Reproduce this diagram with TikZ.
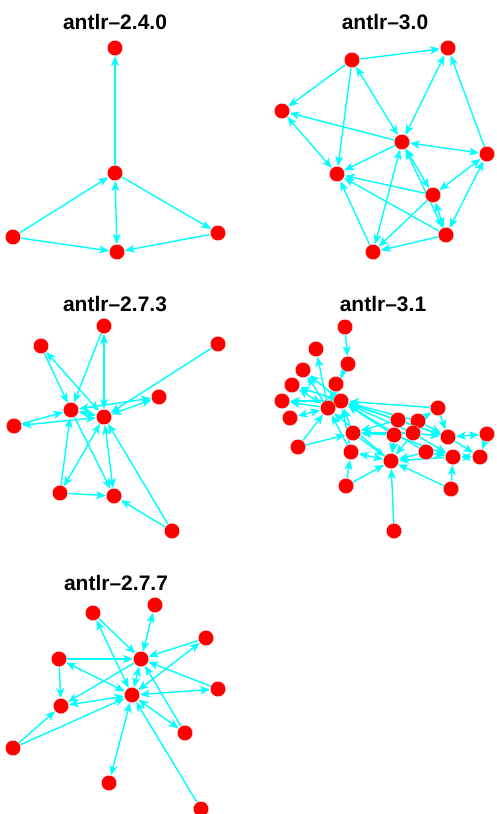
\documentclass[tikz,border=0pt]{standalone}
\usepackage{fontspec}
\setmainfont{Liberation Sans}
\usetikzlibrary{arrows.meta,backgrounds}
\definecolor{edgecyan}{RGB}{0,255,255}
\definecolor{nodered}{RGB}{255,0,0}
\tikzset{
  v/.style={circle,fill=nodered,draw=white,line width=0.3pt,minimum size=15.5pt,inner sep=0pt},
  tip/.tip={Stealth[length=10pt,width=8pt,inset=2.5pt]},
  e/.style={draw=edgecyan,line width=1.4pt,-tip},
  bi/.style={draw=edgecyan,line width=1.4pt,tip-tip},
  ttl/.style={font=\fontsize{21}{24}\selectfont\bfseries,inner sep=0pt}
}
\begin{document}
\begin{tikzpicture}[x=1pt,y=-1pt]
\useasboundingbox (0,0) rectangle (497,814);
% titles
\node[ttl] (t1) at (115,22) {antlr–2.4.0};
\node[ttl] (t2) at (385,22) {antlr–3.0};
\node[ttl] (t3) at (115,304) {antlr–2.7.3};
\node[ttl] (t4) at (383,304) {antlr–3.1};
\node[ttl] (t5) at (116,583) {antlr–2.7.7};
% panel 1
\node[v] (a1) at (115,48) {};
\node[v] (a2) at (115,173) {};
\node[v] (a3) at (13,237) {};
\node[v] (a4) at (117,252) {};
\node[v] (a5) at (218,233) {};
% panel 2
\node[v] (n1) at (352,60) {};
\node[v] (n2) at (448,48) {};
\node[v] (n3) at (282,111) {};
\node[v] (n4) at (402,142) {};
\node[v] (n5) at (487,154) {};
\node[v] (n6) at (337,174) {};
\node[v] (n7) at (433,195) {};
\node[v] (n8) at (446,235) {};
\node[v] (n9) at (373,252) {};
% panel 3
\node[v] (m1) at (104,326) {};
\node[v] (m2) at (41,346) {};
\node[v] (m3) at (218,344) {};
\node[v] (m4) at (159,397) {};
\node[v] (m5) at (71,410) {};
\node[v] (m6) at (104,417) {};
\node[v] (m7) at (14,426) {};
\node[v] (m8) at (60,493) {};
\node[v] (m9) at (114,496) {};
\node[v] (m10) at (172,531) {};
% panel 4
\node[v] (p1) at (345,327) {};
\node[v] (p2) at (316,349) {};
\node[v] (p3) at (348,364) {};
\node[v] (p4) at (303,370) {};
\node[v] (p5) at (336,384) {};
\node[v] (p6) at (292,385) {};
\node[v] (p7) at (282,401) {};
\node[v] (p8) at (341,401) {};
\node[v] (p9) at (328,408) {};
\node[v] (p10) at (290,418) {};
\node[v] (p11) at (438,408) {};
\node[v] (p12) at (398,420) {};
\node[v] (p13) at (418,421) {};
\node[v] (p14) at (353,433) {};
\node[v] (p15) at (394,435) {};
\node[v] (p16) at (413,433) {};
\node[v] (p17) at (448,437) {};
\node[v] (p18) at (487,434) {};
\node[v] (p19) at (298,447) {};
\node[v] (p20) at (351,452) {};
\node[v] (p21) at (426,452) {};
\node[v] (p22) at (391,461) {};
\node[v] (p23) at (453,457) {};
\node[v] (p24) at (480,457) {};
\node[v] (p25) at (346,486) {};
\node[v] (p26) at (451,489) {};
\node[v] (p27) at (394,531) {};
% panel 5
\node[v] (q1) at (93,613) {};
\node[v] (q2) at (155,605) {};
\node[v] (q3) at (206,638) {};
\node[v] (q4) at (59,659) {};
\node[v] (q5) at (141,659) {};
\node[v] (q6) at (218,689) {};
\node[v] (q7) at (132,695) {};
\node[v] (q8) at (61,706) {};
\node[v] (q9) at (185,733) {};
\node[v] (q10) at (13,748) {};
\node[v] (q11) at (109,783) {};
\node[v] (q12) at (201,809) {};
\begin{pgfonlayer}{background}
% panel 1 edges
\draw[e] (a2) -- (a1);
\draw[e] (a3) -- (a2);
\draw[e] (a2) -- (a5);
\draw[e] (a3) -- (a4);
\draw[e] (a5) -- (a4);
\draw[bi] (a2) -- (a4);
% panel 2 edges
\draw[e] (n1) -- (n2);
\draw[e] (n1) -- (n3);
\draw[e] (n1) -- (n6);
\draw[bi] (n1) -- (n4);
\draw[e] (n4) -- (n3);
\draw[bi] (n3) -- (n6);
\draw[bi] (n2) -- (n4);
\draw[e] (n5) -- (n2);
\draw[bi] (n4) -- (n5);
\draw[e] (n4) -- (n6);
\draw[bi] (n4) -- (n9);
\draw[bi] (n4) -- (n7);
\draw[bi] (n4) -- (n8);
\draw[bi] (n5) -- (n7);
\draw[bi] (n5) -- (n8);
\draw[e] (n7) -- (n6);
\draw[e] (n8) -- (n6);
\draw[e] (n9) -- (n6);
\draw[e] (n7) -- (n9);
\draw[e] (n8) -- (n9);
\draw[bi] (n7) -- (n8);
% panel 3 edges
\draw[e] (m1) -- (m5);
\draw[bi] (m1) -- (m6);
\draw[e] (m2) -- (m5);
\draw[bi] (m2) -- (m6);
\draw[e] (m3) -- (m6);
\draw[bi] (m4) -- (m5);
\draw[bi] (m4) -- (m6);
\draw[bi] (m5) -- (m6);
\draw[e] (m7) -- (m5);
\draw[bi] (m7) -- (m6);
\draw[e] (m8) -- (m5);
\draw[e] (m5) -- (m9);
\draw[bi] (m6) -- (m8);
\draw[bi] (m6) -- (m9);
\draw[e] (m8) -- (m9);
\draw[e] (m10) -- (m9);
\draw[e] (m10) -- (m6);
% panel 4 edges
\draw[e] (p1) -- (p3);
\draw[e] (p3) -- (p5);
\draw[e] (p3) -- (p9);
\draw[e] (p9) -- (p2);
\draw[e] (p9) -- (p4);
\draw[e] (p8) -- (p4);
\draw[bi] (p9) -- (p6);
\draw[e] (p8) -- (p6);
\draw[e] (p9) -- (p7);
\draw[e] (p8) -- (p7);
\draw[bi] (p10) -- (p9);
\draw[e] (p19) -- (p14);
\draw[e] (p19) -- (p9);
\draw[bi] (p5) -- (p9);
\draw[e] (p14) -- (p8);
\draw[e] (p20) -- (p9);
\draw[e] (p20) -- (p8);
\draw[e] (p12) -- (p8);
\draw[e] (p13) -- (p8);
\draw[e] (p15) -- (p8);
\draw[e] (p16) -- (p8);
\draw[e] (p11) -- (p8);
\draw[e] (p17) -- (p8);
\draw[e] (p21) -- (p8);
\draw[e] (p12) -- (p14);
\draw[e] (p15) -- (p14);
\draw[e] (p16) -- (p14);
\draw[bi] (p20) -- (p22);
\draw[e] (p13) -- (p11);
\draw[e] (p11) -- (p17);
\draw[bi] (p17) -- (p18);
\draw[e] (p18) -- (p24);
\draw[bi] (p23) -- (p24);
\draw[e] (p17) -- (p24);
\draw[e] (p16) -- (p17);
\draw[e] (p13) -- (p17);
\draw[e] (p12) -- (p17);
\draw[e] (p16) -- (p23);
\draw[e] (p15) -- (p23);
\draw[e] (p21) -- (p23);
\draw[e] (p21) -- (p22);
\draw[e] (p23) -- (p22);
\draw[e] (p26) -- (p22);
\draw[e] (p26) -- (p23);
\draw[e] (p25) -- (p20);
\draw[e] (p25) -- (p22);
\draw[e] (p27) -- (p22);
\draw[e] (p12) -- (p22);
\draw[e] (p15) -- (p22);
\draw[e] (p16) -- (p22);
\draw[e] (p14) -- (p22);
\draw[e] (p22) -- (p9);
\draw[e] (p13) -- (p16);
% panel 5 edges
\draw[e] (q1) -- (q5);
\draw[bi] (q1) -- (q7);
\draw[bi] (q2) -- (q5);
\draw[e] (q3) -- (q5);
\draw[bi] (q3) -- (q7);
\draw[e] (q4) -- (q5);
\draw[e] (q4) -- (q8);
\draw[bi] (q4) -- (q7);
\draw[e] (q5) -- (q8);
\draw[bi] (q5) -- (q7);
\draw[e] (q6) -- (q5);
\draw[bi] (q6) -- (q7);
\draw[bi] (q7) -- (q8);
\draw[e] (q9) -- (q5);
\draw[bi] (q7) -- (q9);
\draw[e] (q10) -- (q8);
\draw[e] (q10) -- (q7);
\draw[bi] (q7) -- (q11);
\draw[e] (q12) -- (q7);
\end{pgfonlayer}
\end{tikzpicture}
\end{document}
